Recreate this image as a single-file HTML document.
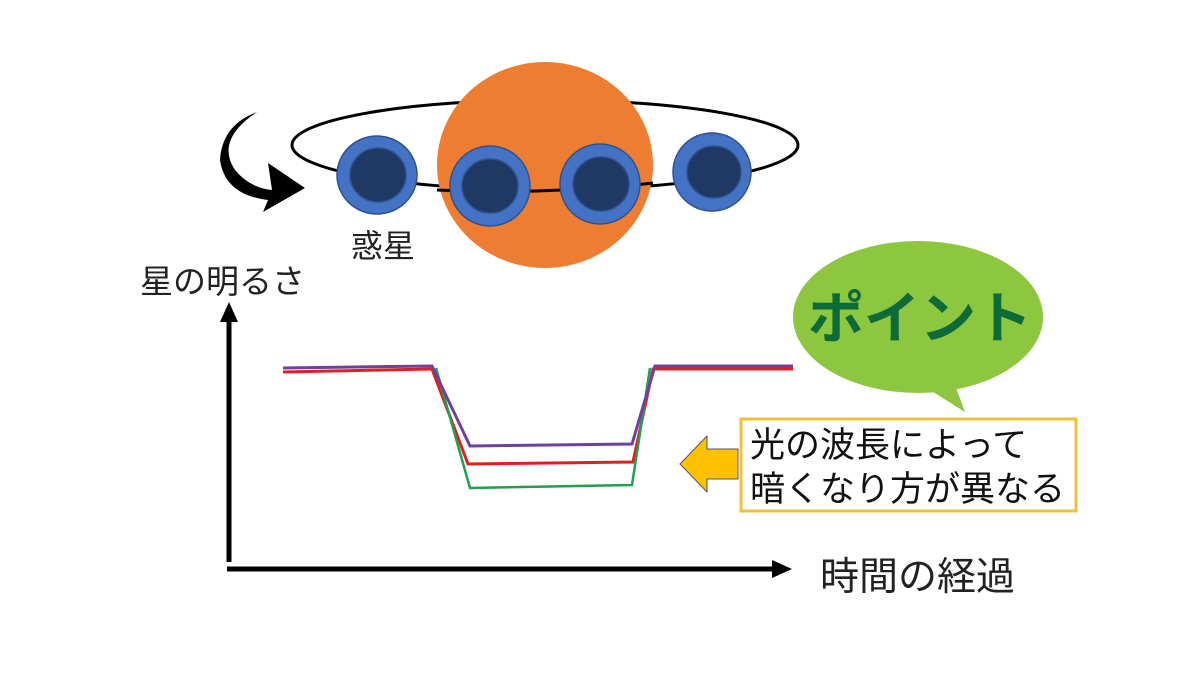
<!DOCTYPE html>
<html><head><meta charset="utf-8"><style>body{margin:0;background:#fff}svg{display:block}</style></head><body>
<svg width="1200" height="675" viewBox="0 0 1200 675" xmlns="http://www.w3.org/2000/svg" font-family="Liberation Sans, Noto Sans CJK JP, sans-serif">
<rect width="1200" height="675" fill="#fff"/>
<ellipse cx="545" cy="145" rx="253" ry="45" fill="none" stroke="#000" stroke-width="3"/>
<ellipse cx="545" cy="165" rx="108" ry="103" fill="#ed7d31"/>
<path d="M437 190 Q545 195 653 183" fill="none" stroke="#000" stroke-width="3"/>
<g stroke="#2f528f" stroke-width="1.5">
<ellipse cx="377" cy="175" rx="40" ry="39" fill="#4472c4"/><ellipse cx="378" cy="175" rx="28" ry="27" fill="#1f3864"/>
<ellipse cx="490" cy="186" rx="40" ry="40" fill="#4472c4"/><ellipse cx="490" cy="186" rx="28" ry="27" fill="#1f3864"/>
<ellipse cx="600" cy="184" rx="40" ry="40" fill="#4472c4"/><ellipse cx="601" cy="184" rx="28" ry="27" fill="#1f3864"/>
<ellipse cx="712" cy="172" rx="39" ry="39" fill="#4472c4"/><ellipse cx="714" cy="172" rx="27" ry="26" fill="#1f3864"/>
</g>
<path d="M257 112 Q215 140 235 170 Q250 188 272 190 L268 163 L305 188 L263 212 L268 200 Q225 195 220 160 Q222 125 257 112 Z" fill="#000"/>
<text x="351" y="257" font-size="32" fill="#222">惑星</text>
<text x="140" y="293" font-size="33" fill="#222">星の明るさ</text>
<text x="820" y="590" font-size="39" fill="#222">時間の経過</text>
<line x1="229" y1="562" x2="229" y2="320" stroke="#000" stroke-width="5"/>
<polygon points="229,302 220,322 238,322" fill="#000"/>
<line x1="227" y1="569" x2="772" y2="569" stroke="#000" stroke-width="5"/>
<polygon points="792,569 772,560 772,578" fill="#000"/>
<polyline points="283,372 432,369 468,464 633,462 653,369 793,369" fill="none" stroke="#e02020" stroke-width="3"/>
<polyline points="436,368 470,488 632,485 650,368" fill="none" stroke="#20a050" stroke-width="2.5"/>
<polyline points="283,368 432,366 470,446 632,444 655,366 793,366" fill="none" stroke="#7040a0" stroke-width="3"/>
<path d="M930 390 L965 412 L955 385 Z" fill="#8dc63f"/>
<ellipse cx="918" cy="317" rx="125" ry="76" fill="#8dc63f"/>
<text x="920" y="338" font-size="56" font-weight="bold" fill="#0d6b3a" text-anchor="middle">ポイント</text>
<rect x="741" y="419" width="335" height="92" fill="#fff" stroke="#f2c037" stroke-width="3"/>
<text x="750" y="457" font-size="35" fill="#111">光の波長によって</text>
<text x="750" y="501" font-size="35" fill="#111">暗くなり方が異なる</text>
<polygon points="680,464 707,436 707,449 738,449 738,479 707,479 707,492" fill="#ffc000" stroke="#556" stroke-width="1"/>
</svg>
</body></html>
